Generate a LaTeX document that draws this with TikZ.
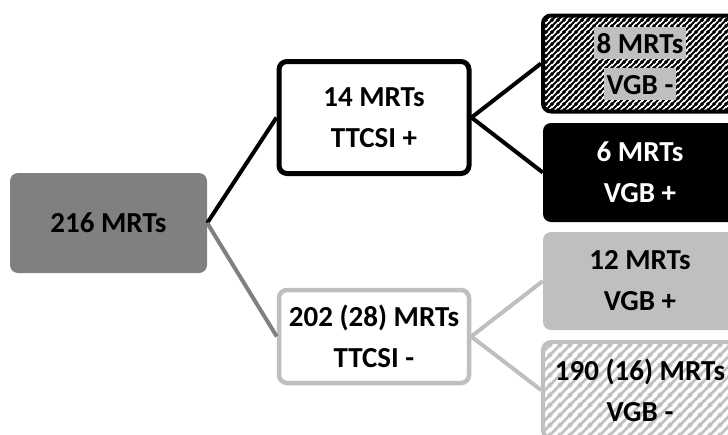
\documentclass[tikz,border=0pt]{standalone}
\usepackage{fontspec}
\setmainfont{Carlito}
\usepackage{tikz}
\usetikzlibrary{patterns}
\pgfdeclarepatternformonly{denseStripes}{\pgfqpoint{0pt}{0pt}}{\pgfqpoint{6pt}{6pt}}{\pgfqpoint{6pt}{6pt}}{
	\pgfsetlinewidth{2.3pt}
	\pgfpathmoveto{\pgfqpoint{-1pt}{-1pt}}\pgfpathlineto{\pgfqpoint{7pt}{7pt}}
	\pgfpathmoveto{\pgfqpoint{-2pt}{4pt}}\pgfpathlineto{\pgfqpoint{2pt}{8pt}}
	\pgfpathmoveto{\pgfqpoint{4pt}{-2pt}}\pgfpathlineto{\pgfqpoint{8pt}{2pt}}
	\pgfusepath{stroke}}
\pgfdeclarepatternformonly{wideStripes}{\pgfqpoint{0pt}{0pt}}{\pgfqpoint{10pt}{10pt}}{\pgfqpoint{10pt}{10pt}}{
	\pgfsetlinewidth{3pt}
	\pgfpathmoveto{\pgfqpoint{-2pt}{-2pt}}\pgfpathlineto{\pgfqpoint{12pt}{12pt}}
	\pgfpathmoveto{\pgfqpoint{-3pt}{7pt}}\pgfpathlineto{\pgfqpoint{3pt}{13pt}}
	\pgfpathmoveto{\pgfqpoint{7pt}{-3pt}}\pgfpathlineto{\pgfqpoint{13pt}{3pt}}
	\pgfusepath{stroke}}
\newcommand{\markbg}[1]{{\setlength{\fboxsep}{3pt}\colorbox{black!25}{\rule[-3pt]{0pt}{26pt}#1}}}

\begin{document}
\begin{tikzpicture}[x=1pt, y=-1pt,
	box/.style={rounded corners=8pt, align=center, inner sep=0pt, font=\fontsize{29}{41}\selectfont\bfseries},
	midbox/.style={box, minimum width=190pt},
	sidebox/.style={box, minimum width=194pt, minimum height=96pt}]
	\useasboundingbox (0,0) rectangle (728,434);
	\node[box, fill=black!50, minimum width=197pt, minimum height=100pt] (total) at (108.5,223) {216 MRTs};
	\node[midbox, draw=black, line width=5pt, fill=white, minimum height=112pt] (ttcsiPos) at (374,117.5) {14 MRTs\\TTCSI +};
	\node[midbox, draw=black!25, line width=4.5pt, fill=white, minimum height=93pt] (ttcsiNeg) at (374,336.5) {202 (28) MRTs\\TTCSI -};
	\node[sidebox, draw=black, line width=4pt, preaction={fill=white}, pattern=denseStripes, pattern color=black] (posNeg) at (640,63.5) {\markbg{8 MRTs}\\\markbg{VGB -}};
	\node[sidebox, fill=black, text=white, minimum height=99pt] (posPos) at (640,172.5) {6 MRTs\\VGB +};
	\node[sidebox, fill=black!25, minimum height=98pt] (negPos) at (640,281) {12 MRTs\\VGB +};
	\node[sidebox, draw=black!25, line width=4pt, preaction={fill=white}, pattern=wideStripes, pattern color=black!25] (negNeg) at (640,390) {190 (16) MRTs\\VGB -};
	\draw[black, line width=4pt] (total.east) -- (ttcsiPos.west);
	\draw[black!50, line width=4pt] (total.east) -- (ttcsiNeg.west);
	\draw[black, line width=4pt] (ttcsiPos.east) -- (posNeg.west);
	\draw[black, line width=4pt] (ttcsiPos.east) -- (posPos.west);
	\draw[black!25, line width=4pt] (ttcsiNeg.east) -- (negPos.west);
	\draw[black!25, line width=4pt] (ttcsiNeg.east) -- (negNeg.west);
\end{tikzpicture}
\end{document}
